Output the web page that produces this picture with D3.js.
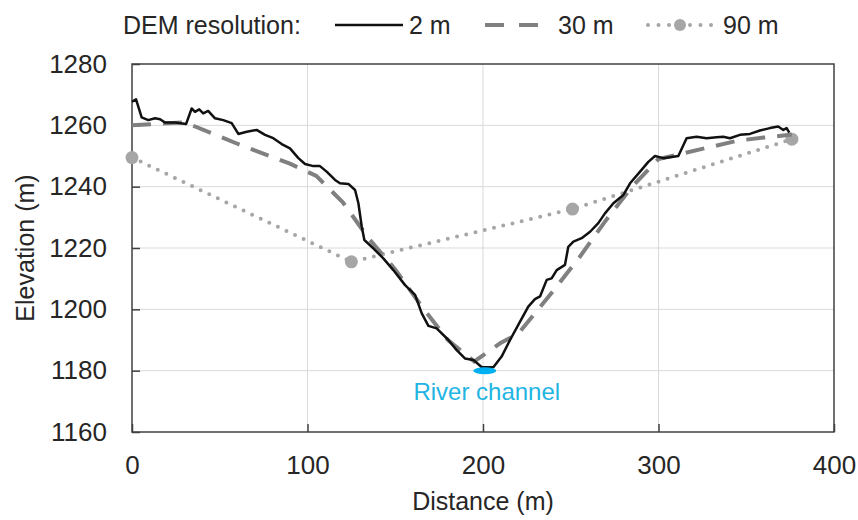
<!DOCTYPE html>
<html>
<head>
<meta charset="utf-8">
<script src="https://cdn.jsdelivr.net/npm/d3@7"></script>
<style>
  body { margin: 0; background: #fff; }
  svg { display: block; font-family: "Liberation Sans", Arial, sans-serif; }
</style>
</head>
<body>
<svg></svg>
<script>
// 2 m DEM profile
let dist2m = [0, 2.3, 3.6, 5.5, 9.3, 13.1, 16, 18.8, 24.5, 30.8, 34, 35.9, 38.3, 40.6, 43.4, 47.3, 52, 56.8, 60.6, 65.4,
  71, 75.8, 80.5, 85.3, 90, 94.8, 98.6, 103.3, 107.1, 110.9, 115.7, 118.5, 123.3, 127.1, 129, 130.9, 132.4, 137.5, 143.2,
  148.9, 155.6, 161.3, 165.1, 168.9, 173.6, 180.3, 185, 189.7, 194.5, 199.3, 205.9, 210.6, 215.4, 220.1, 225.8, 229.6,
  232.5, 236.3, 239.1, 242, 246.7, 248.6, 251.5, 256.2, 261, 265.7, 269.5, 274.3, 280, 283.8, 289.5, 294.2, 298, 302.7,
  311.3, 316, 321.7, 327.4, 333.1, 336.9, 340.7, 346.4, 352.1, 357.8, 363.5, 368.2, 371.1, 373, 374.5];
let elev2m = [1267.7, 1268.5, 1266.1, 1262.6, 1261.7, 1262.3, 1262, 1260.9, 1260.9, 1260.4, 1265.5, 1264.4, 1265.2,
  1263.9, 1264.7, 1262.3, 1261.7, 1260.7, 1257.2, 1257.9, 1258.5, 1256.9, 1255.8, 1253.9, 1252.5, 1249.3, 1247.4,
  1246.7, 1246.7, 1244.9, 1242.2, 1241.1, 1240.9, 1238.9, 1234.6, 1227, 1222.6, 1219.9, 1216.6, 1212.8, 1207.9, 1204.7,
  1198.7, 1194.6, 1193.8, 1190, 1186.7, 1184, 1183.5, 1181.1, 1181.1, 1184.6, 1190, 1194.9, 1200.9, 1203.3, 1204.2,
  1209.6, 1210.1, 1212.8, 1214.5, 1220.4, 1222.1, 1223.2, 1225.3, 1228.1, 1231.3, 1234.6, 1237.3, 1241.1, 1244.9,
  1248.1, 1250, 1249.3, 1250, 1255.8, 1256.3, 1255.8, 1256.1, 1256.3, 1255.8, 1256.9, 1257.2, 1258.3, 1259.1, 1259.6,
  1258.5, 1259.1, 1257.6];

// 30 m DEM profile
let dist30m = [0, 30, 60, 90, 105, 120, 135, 150, 165, 180, 195, 210, 220, 240, 255, 270, 285, 300, 315, 330, 345, 360, 376];
let elev30m = [1260, 1261, 1254, 1247.5, 1243.5, 1235, 1223, 1213, 1201, 1190, 1183, 1189, 1192, 1206, 1217, 1229,
  1240, 1249, 1251, 1253, 1255, 1256, 1257];

// 90 m DEM profile
let dist90m = [0, 125, 251, 376];
let elev90m = [1249.5, 1215.5, 1232.7, 1255.5];

let xTicks = [0, 100, 200, 300, 400];
let yTicks = [1160, 1180, 1200, 1220, 1240, 1260, 1280];

let riverDist = 201;
let riverElev = 1180;

let width = 858;
let height = 520;
let plotLeft = 132, plotRight = 834, plotTop = 64, plotBottom = 432;

let svg = d3.select("svg").attr("width", width).attr("height", height);

let xScale = d3.scaleLinear().domain([0, 400]).range([plotLeft, plotRight]);
let yScale = d3.scaleLinear().domain([1160, 1280]).range([plotBottom, plotTop]);

// grid
svg.append("g")
  .selectAll("line")
  .data(xTicks.slice(1, -1))
  .enter()
  .append("line")
  .attr("x1", (d) => xScale(d)).attr("x2", (d) => xScale(d))
  .attr("y1", plotTop).attr("y2", plotBottom)
  .attr("stroke", "#d9d9d9").attr("stroke-width", 1);

svg.append("g")
  .selectAll("line")
  .data(yTicks.slice(1, -1))
  .enter()
  .append("line")
  .attr("x1", plotLeft).attr("x2", plotRight)
  .attr("y1", (d) => yScale(d)).attr("y2", (d) => yScale(d))
  .attr("stroke", "#d9d9d9").attr("stroke-width", 1);

// axes
let xAxis = d3.axisBottom(xScale).tickValues(xTicks).tickFormat(d3.format("d")).tickSize(-8).tickPadding(24);
let gx = svg.append("g").attr("transform", `translate(0, ${plotBottom})`).call(xAxis);

let yAxis = d3.axisLeft(yScale).tickValues(yTicks).tickFormat(d3.format("d")).tickSize(-8).tickPadding(25);
let gy = svg.append("g").attr("transform", `translate(${plotLeft}, 0)`).call(yAxis);

[gx, gy].forEach((g) => {
  g.select(".domain").remove();
  g.selectAll(".tick line").attr("stroke", "#404040").attr("stroke-width", 1.5);
  g.selectAll(".tick text").attr("fill", "#262626").style("font-size", "26px").style("font-family", "Liberation Sans, Arial, sans-serif");
});

// frame
svg.append("rect")
  .attr("x", plotLeft).attr("y", plotTop)
  .attr("width", plotRight - plotLeft).attr("height", plotBottom - plotTop)
  .attr("fill", "none").attr("stroke", "#404040").attr("stroke-width", 1.5);

let line = d3.line().x((d) => xScale(d[0])).y((d) => yScale(d[1]));

// 90 m
let pts90 = d3.zip(dist90m, elev90m);
svg.append("path")
  .attr("d", line(pts90))
  .attr("fill", "none").attr("stroke", "#a6a6a6").attr("stroke-width", 4)
  .attr("stroke-linecap", "round").attr("stroke-dasharray", "0,9.5");
svg.selectAll(".dot90")
  .data(pts90)
  .enter()
  .append("circle")
  .attr("class", "dot90")
  .attr("cx", (d) => xScale(d[0])).attr("cy", (d) => yScale(d[1]))
  .attr("r", 6.5).attr("fill", "#a6a6a6");

// 30 m
svg.append("path")
  .attr("d", line(d3.zip(dist30m, elev30m)))
  .attr("fill", "none").attr("stroke", "#808080").attr("stroke-width", 4)
  .attr("stroke-dasharray", "19,12");

// 2 m
svg.append("path")
  .attr("d", line(d3.zip(dist2m, elev2m)))
  .attr("fill", "none").attr("stroke", "#111").attr("stroke-width", 2.5)
  .attr("stroke-linejoin", "round");

// river channel
svg.append("ellipse")
  .attr("cx", xScale(riverDist)).attr("cy", yScale(riverElev))
  .attr("rx", 11.5).attr("ry", 3.5).attr("fill", "#00b0f0");
svg.append("text")
  .attr("x", xScale(riverDist) + 2).attr("y", yScale(riverElev) + 29)
  .attr("text-anchor", "middle")
  .attr("fill", "#1fb5e3").style("font-size", "24px")
  .text("River channel");

// axis titles
svg.append("text")
  .attr("x", (plotLeft + plotRight) / 2).attr("y", 510)
  .attr("text-anchor", "middle").attr("fill", "#262626").style("font-size", "25px")
  .text("Distance (m)");
svg.append("text")
  .attr("transform", `translate(34, ${(plotTop + plotBottom) / 2}) rotate(-90)`)
  .attr("text-anchor", "middle").attr("fill", "#262626").style("font-size", "25px")
  .text("Elevation (m)");

// legend
let legend = svg.append("g").style("font-size", "25px").attr("fill", "#262626");
legend.append("text").attr("x", 123).attr("y", 34).text("DEM resolution:");

legend.append("line").attr("x1", 335).attr("x2", 403).attr("y1", 25).attr("y2", 25)
  .attr("stroke", "#111").attr("stroke-width", 2.5);
legend.append("text").attr("x", 409).attr("y", 34).text("2 m");

legend.append("line").attr("x1", 485).attr("x2", 539).attr("y1", 25).attr("y2", 25)
  .attr("stroke", "#808080").attr("stroke-width", 4).attr("stroke-dasharray", "19,15");
legend.append("text").attr("x", 558).attr("y", 34).text("30 m");

legend.append("line").attr("x1", 648).attr("x2", 714).attr("y1", 25).attr("y2", 25)
  .attr("stroke", "#a6a6a6").attr("stroke-width", 4).attr("stroke-linecap", "round")
  .attr("stroke-dasharray", "0,10.5");
legend.append("circle").attr("cx", 680).attr("cy", 25).attr("r", 6).attr("fill", "#a6a6a6");
legend.append("text").attr("x", 723).attr("y", 34).text("90 m");
</script>
</body>
</html>
